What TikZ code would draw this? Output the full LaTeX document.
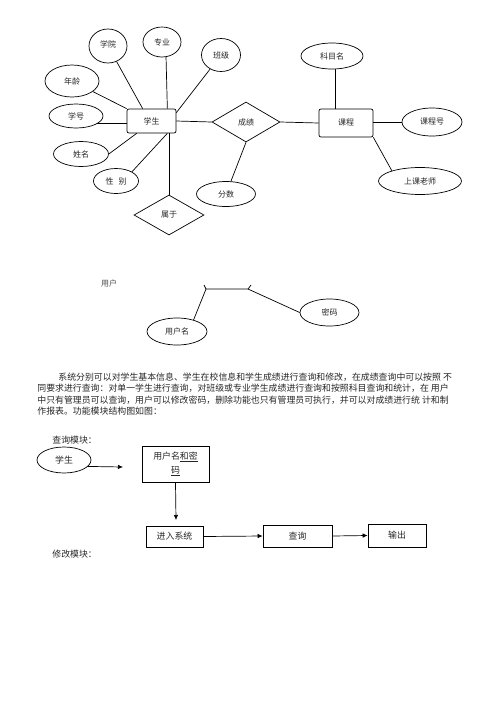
\documentclass[tikz,border=0pt]{standalone}
\usepackage{fontspec}
\newfontfamily\cjk{Noto Sans CJK SC}
\usetikzlibrary{arrows, arrows.meta}
\usetikzlibrary{shapes.geometric}

\newcommand\ertext{\cjk\fontsize{8pt}{9pt}\selectfont}
\newcommand\bodytext{\cjk\fontsize{8.9pt}{14pt}\selectfont}

\tikzset{
  attr/.style={ellipse, draw, inner sep=0pt, font=\ertext, text=black!85},
  ent/.style={rectangle, rounded corners=2pt, draw, inner sep=0pt, font=\ertext, text=black!85},
  rel/.style={diamond, draw, inner sep=0pt, font=\ertext, text=black!85},
  flowbox/.style={rectangle, draw, inner sep=0pt, font=\bodytext, text=black!85},
  para/.style={anchor=west, inner sep=0pt, font=\bodytext, text=black!85},
}

\begin{document}
\begin{tikzpicture}[x=1pt, y=-1pt, line width=0.7pt, >={Latex[length=5pt,width=4.5pt]}]
\useasboundingbox (0,0) rectangle (500,721);

\node[ent, minimum width=49pt, minimum height=24pt] (xs) at (151.5,121) {学生};
\node[attr, minimum width=38pt, minimum height=34pt] (xy) at (108,46) {\raisebox{3pt}{学院}};
\node[attr, minimum width=38pt, minimum height=30pt] (zy) at (162,42) {专业};
\node[attr, minimum width=39pt, minimum height=33pt] (bj) at (221,55) {班级};
\node[attr, minimum width=54pt, minimum height=32pt] (nl) at (72,81) {年龄};
\node[attr, minimum width=54pt, minimum height=24pt] (xh) at (76,116) {学号};
\node[attr, minimum width=55pt, minimum height=25pt] (xm) at (81,154) {姓名};
\node[attr, minimum width=45pt, minimum height=25pt] (xb) at (116,181) {性\hspace{5pt}别};
\node[rel, minimum width=70pt, minimum height=40pt] (sy) at (169,215) {属于};
\node[rel, minimum width=68pt, minimum height=40pt] (cj) at (246,122) {成绩};
\node[attr, minimum width=59pt, minimum height=25pt] (fs) at (226,194) {分数};
\node[ent, minimum width=54pt, minimum height=28pt] (kc) at (346,123) {课程};
\node[attr, minimum width=62pt, minimum height=26pt] (kmm) at (332,56) {科目名};
\node[attr, minimum width=60pt, minimum height=28pt] (kch) at (432,122) {课程号};
\node[attr, minimum width=83pt, minimum height=27pt] (skl) at (420,181) {上课老师};

\draw (xy) -- ([xshift=16pt]xs.north west);
\draw (zy.-75) -- ([xshift=-9pt]xs.north east);
\draw (bj) -- ([yshift=-4pt]xs.north east);
\draw (nl) -- (xs.north west);
\draw (xh.-20) -- (xh.-20 -| xs.west);
\draw (xm.east) -- ([xshift=10pt]xs.south west);
\draw (xb.30) -- ([xshift=-9pt]xs.south east);
\draw (sy.north) -- (sy.north |- xs.south);
\draw (xs.east) -- (cj.west);
\draw (cj.south) -- (fs);
\draw (cj.east) -- (kc.west);
\draw (kmm.-75) -- (kmm.-75 |- kc.north);
\draw (kch.west) -- (kch.west -| kc.east);
\draw (kc.south east) -- (skl.160);

\node[font=\ertext, text=black!70, inner sep=0pt] (yh) at (109,283) {用户};
\node[attr, minimum width=60pt, minimum height=27pt] (yhm) at (177,331.5) {用户名};
\node[attr, minimum width=59pt, minimum height=27pt] (mm) at (329.5,312.5) {密码};
\coordinate (c1) at (206,289);
\coordinate (c2) at (248,289);
\coordinate (t1) at (204,285);
\coordinate (t2) at (251,285);
\draw (yhm.35) -- (c1) -- (c2) -- (mm.west);
\draw (c1) -- (t1);
\draw (c2) -- (t2);

\node[para] (p1) at (58,377) {系统分别可以对学生基本信息、学生在校信息和学生成绩进行查询和修改，在成绩查询中可以按照 不};
\node[para] (p2) at (37,388.5) {同要求进行查询：对单一学生进行查询，对班级或专业学生成绩进行查询和按照科目查询和统计，在 用户};
\node[para] (p3) at (37,400) {中只有管理员可以查询，用户可以修改密码，删除功能也只有管理员可执行，并可以对成绩进行统 计和制};
\node[para] (p4) at (37,411.5) {作报表。功能模块结构图如图：};

\node[para] (cxmk) at (52,440) {查询模块：};
\node[attr, font=\bodytext, minimum width=54pt, minimum height=26pt] (xs2) at (64,460) {学生};
\coordinate (a1) at (123,467);
\draw[->] (xs2.-15) -- (a1);
\node[flowbox, minimum width=67pt, minimum height=36pt, align=center] (yhmm) at (175.5,464) {用户名\underline{和密}\\\underline{码}};
\coordinate (a2) at (176,520);
\draw[->] (yhmm.south) -- (a2);
\node[flowbox, minimum width=57pt, minimum height=21pt] (jr) at (174.5,536.5) {进入系统};
\node[flowbox, minimum width=69pt, minimum height=22pt] (cx) at (297.5,536) {查询};
\node[flowbox, minimum width=58pt, minimum height=23pt] (sc) at (397,535.5) {输出};
\draw[->] (jr.east) -- (cx.west);
\draw[->] (cx.east) -- (sc.west);
\node[para] (xgmk) at (52,554) {修改模块：};
\end{tikzpicture}
\end{document}
